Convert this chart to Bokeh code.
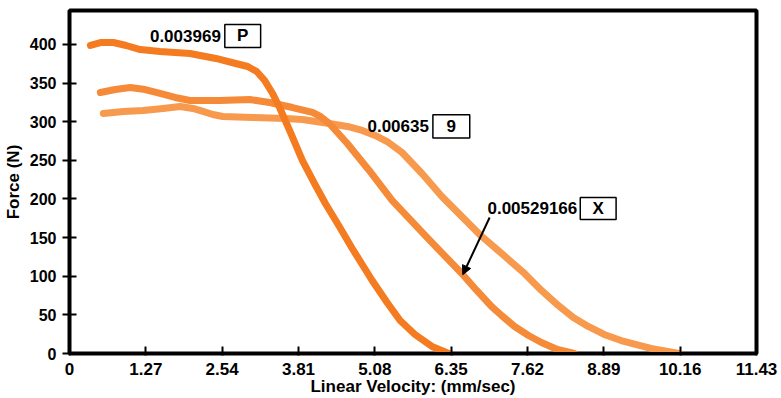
from bokeh.plotting import figure
from bokeh.models import Range1d, FixedTicker, Label, BoxAnnotation, Arrow, NormalHead
from bokeh.embed import file_html
from bokeh.resources import INLINE

# ---- data ----
x_ticks = [0, 1.27, 2.54, 3.81, 5.08, 6.35, 7.62, 8.89, 10.16, 11.43]
x_tick_labels = ["0", "1.27", "2.54", "3.81", "5.08", "6.35", "7.62", "8.89", "10.16", "11.43"]
y_ticks = [0, 50, 100, 150, 200, 250, 300, 350, 400]

# curve "P" (0.003969)
p_x = [0.348, 0.530, 0.729, 0.944, 1.176, 1.507, 2.004, 2.435, 2.766, 2.965, 3.114, 3.247,
       3.379, 3.495, 3.677, 3.876, 4.075, 4.257, 4.489, 4.704, 4.870, 5.036, 5.284, 5.500,
       5.748, 6.030, 6.311]
p_y = [398.7, 402.6, 402.6, 398.7, 393.5, 390.9, 388.4, 381.9, 375.4, 371.5, 365.0, 353.4,
       336.6, 318.4, 286.1, 249.8, 220.1, 194.2, 164.4, 135.9, 115.2, 94.5, 66.0, 42.7,
       24.6, 9.1, 0.0]

# curve "X" (0.00529166)
x_x = [0.514, 0.762, 1.010, 1.259, 1.507, 1.756, 2.004, 2.501, 2.998, 3.330, 3.711, 4.042,
       4.174, 4.323, 4.622, 4.986, 5.367, 5.947, 6.527, 6.775, 7.024, 7.189, 7.405, 7.637,
       7.852, 8.117, 8.398]
x_y = [337.9, 341.7, 344.3, 341.7, 336.6, 331.4, 327.5, 327.5, 328.8, 324.9, 318.4, 312.0,
       306.8, 297.7, 271.8, 236.9, 198.1, 150.2, 103.6, 81.6, 60.8, 49.2, 35.0, 23.3,
       14.2, 5.2, 0.0]

# curve "9" (0.00635)
n_x = [0.563, 0.895, 1.226, 1.557, 1.839, 2.054, 2.220, 2.385, 2.551, 3.048, 3.594, 3.876,
       4.323, 4.622, 4.870, 5.085, 5.284, 5.533, 5.864, 6.195, 6.527, 6.858, 7.189, 7.570,
       7.852, 8.133, 8.382, 8.630, 8.895, 9.177, 9.674, 10.140]
n_y = [310.7, 313.3, 314.6, 317.2, 319.7, 317.2, 313.3, 309.4, 306.8, 305.5, 304.2, 302.9,
       297.7, 293.9, 288.7, 282.2, 274.4, 260.2, 233.0, 203.2, 177.3, 151.5, 129.5, 103.6,
       81.6, 62.1, 46.6, 35.0, 24.6, 16.8, 6.5, 0.0]

series_names = ["0.003969", "0.00635", "0.00529166"]
series_tags = ["P", "9", "X"]

FONT = "Liberation Sans"

p = figure(width=781, height=398, output_backend="svg", toolbar_location=None,
           x_range=Range1d(0, 11.43), y_range=Range1d(0, 444),
           min_border_left=66, min_border_right=25, min_border_top=10, min_border_bottom=45)

p.background_fill_color = "white"
p.border_fill_color = "white"
p.outline_line_color = "black"
p.outline_line_width = 4
p.xgrid.visible = False
p.ygrid.visible = False

# axes
p.xaxis.ticker = FixedTicker(ticks=x_ticks)
p.xaxis.major_label_overrides = {t: l for t, l in zip(x_ticks, x_tick_labels)}
p.yaxis.ticker = FixedTicker(ticks=y_ticks)
for ax in (p.xaxis[0], p.yaxis[0]):
    ax.axis_line_color = "black"
    ax.axis_line_width = 3
    ax.major_tick_line_color = "black"
    ax.major_tick_line_width = 2
    ax.minor_tick_line_color = None
    ax.major_label_text_font = FONT
    ax.major_label_text_font_style = "bold"
    ax.major_label_text_color = "black"
    ax.axis_label_text_font = FONT
    ax.axis_label_text_font_style = "bold"
    ax.axis_label_text_font_size = "17px"
    ax.axis_label_text_color = "black"
p.xaxis.major_label_text_font_size = "17px"
p.yaxis.major_label_text_font_size = "16px"
p.xaxis.major_tick_in = 7
p.xaxis.major_tick_out = 2
p.yaxis.major_tick_in = 7
p.yaxis.major_tick_out = 7
p.xaxis.major_label_standoff = 7
p.yaxis.major_label_standoff = 6
p.xaxis.axis_label = "Linear Velocity: (mm/sec)"
p.yaxis.axis_label = "Force (N)"
p.xaxis.axis_label_standoff = -1
p.yaxis.axis_label_standoff = 4

# curves
p.line(n_x, n_y, line_color="#F79A4E", line_width=7, line_cap="round", line_join="round")
p.line(x_x, x_y, line_color="#F58B38", line_width=7, line_cap="round", line_join="round")
p.line(p_x, p_y, line_color="#F47B20", line_width=7, line_cap="round", line_join="round")

# annotations: value text + boxed tag
ann_text_x = [2.518, 5.98, 8.448]
ann_y = [411, 294, 188]
box_left = [2.584, 6.046, 8.498]
box_right = [3.180, 6.659, 9.094]
box_bottom = [396, 279, 173.5]
box_top = [426, 309, 202]

for name, tag, tx, ty, bl, br, bb, bt in zip(series_names, series_tags, ann_text_x, ann_y,
                                              box_left, box_right, box_bottom, box_top):
    p.add_layout(Label(x=tx, y=ty, text=name, text_align="right", text_baseline="middle",
                       text_font=FONT, text_font_style="bold", text_font_size="17px",
                       text_color="black"))
    p.add_layout(BoxAnnotation(left=bl, right=br, bottom=bb, top=bt,
                               fill_color="white", fill_alpha=1.0,
                               line_color="black", line_width=1.5, line_alpha=1.0))
    p.add_layout(Label(x=(bl + br) / 2, y=(bb + bt) / 2, text=tag, text_align="center",
                       text_baseline="middle", text_font=FONT, text_font_style="bold",
                       text_font_size="17px", text_color="black"))

p.add_layout(Arrow(x_start=6.99, y_start=176, x_end=6.543, y_end=102,
                   line_color="black", line_width=2,
                   end=NormalHead(size=9, fill_color="black", line_color="black")))

open("out.html", "w").write(file_html(p, INLINE))
